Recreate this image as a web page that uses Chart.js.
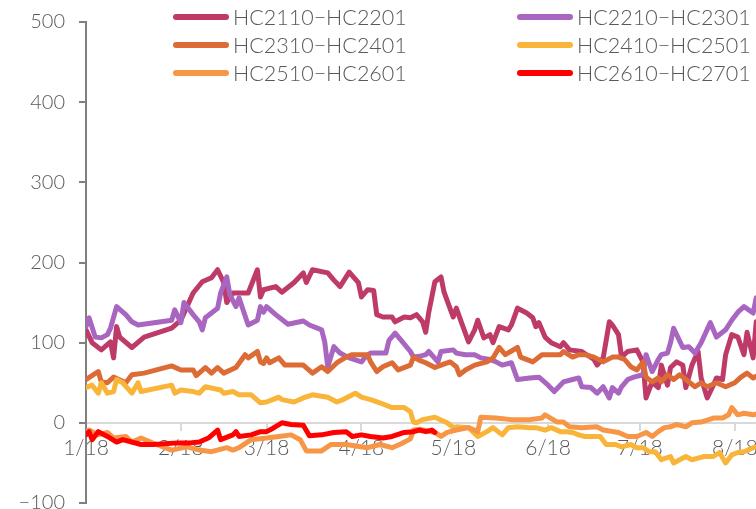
<!DOCTYPE html>
<html>
<head>
<meta charset="utf-8">
<script src="https://cdn.jsdelivr.net/npm/chart.js@4/dist/chart.umd.min.js"></script>
<style>
    html, body { margin: 0; padding: 0; overflow: hidden; background: #fff; }
    #wrap { position: relative; width: 900px; height: 540px; }
    #legend {
        position: absolute; left: 173px; top: 3px;
        display: grid; grid-template-columns: 344px auto;
        font-family: Lato, sans-serif; font-weight: 300; font-size: 21.5px; color: #595959;
    }
    .item { display: flex; align-items: center; height: 28px; white-space: nowrap; }
    .swatch { width: 56px; height: 6px; border-radius: 3px; margin-right: 4px; }
</style>
</head>
<body>
<div id="wrap">
    <canvas id="myChart"></canvas>
    <div id="legend"></div>
</div>
<script>
// x = days since 1/18, y = spread
const seriesNames = ['HC2110\u2212HC2201', 'HC2210\u2212HC2301', 'HC2310\u2212HC2401', 'HC2410\u2212HC2501', 'HC2510\u2212HC2601', 'HC2610\u2212HC2701'];
const seriesColors = ['#be3a68', '#a866c0', '#dc6b35', '#f9b53a', '#f79646', '#ff0000'];

const tickDays = [0, 31, 59, 90, 120, 151, 181, 212, 243];
const tickLabels = ['1/18', '2/18', '3/18', '4/18', '5/18', '6/18', '7/18', '8/18', '9/18'];

const hc2110 = [[0,116],[2,100],[5,91],[8,101],[9,81],[10,120],[11,107],[15,94],[19,107],[28,118],[31,128],[35,162],[38,176],[41,181],[43,191],[45,175],[46,150],[48,162],[53,162],[56,191],[57,157],[58,166],[62,170],[64,163],[68,175],[71,187],[72,175],[74,191],[79,187],[81,178],[83,170],[86,188],[89,175],[90,157],[92,166],[94,165],[95,135],[97,132],[100,132],[101,126],[104,132],[106,131],[108,135],[110,126],[111,113],[112,138],[114,176],[116,182],[117,163],[120,132],[121,143],[123,122],[125,101],[127,116],[128,128],[130,106],[132,110],[133,100],[135,120],[138,116],[139,122],[141,143],[144,137],[146,131],[147,120],[148,125],[150,107],[152,100],[155,95],[156,100],[158,91],[162,89],[166,79],[167,72],[169,81],[171,126],[172,122],[174,110],[175,82],[177,89],[180,91],[182,76],[183,31],[185,51],[187,44],[188,72],[190,47],[191,69],[193,76],[195,72],[196,44],[198,72],[200,89],[201,56],[203,31],[205,47],[206,56],[208,54],[209,85],[211,110],[213,107],[215,85],[216,113],[218,81],[219,126]];
const hc2210 = [[0,120],[1,131],[3,107],[5,106],[7,110],[8,118],[10,145],[13,135],[15,126],[17,122],[28,128],[29,141],[31,125],[32,150],[35,135],[37,126],[38,116],[39,131],[43,143],[44,162],[46,182],[47,160],[49,145],[50,156],[53,122],[56,128],[57,145],[58,138],[59,145],[62,135],[66,123],[71,127],[73,122],[77,116],[78,101],[79,70],[81,95],[83,87],[86,81],[90,76],[91,81],[93,87],[98,87],[99,103],[101,112],[103,103],[106,89],[107,82],[109,83],[111,85],[112,89],[115,76],[116,89],[120,91],[121,87],[124,85],[127,85],[129,81],[132,79],[134,76],[136,72],[139,75],[141,54],[145,56],[148,57],[151,47],[153,39],[156,51],[159,54],[161,56],[162,45],[165,44],[167,37],[169,45],[171,31],[172,44],[174,37],[175,45],[177,54],[179,57],[182,60],[183,85],[185,64],[187,79],[188,85],[190,87],[191,100],[192,118],[195,94],[197,95],[199,87],[201,100],[204,125],[206,107],[209,116],[211,128],[213,138],[215,145],[218,137],[219,156]];
const hc2310 = [[0,54],[4,64],[5,51],[7,50],[9,57],[13,50],[15,60],[19,62],[28,71],[31,66],[35,66],[36,59],[39,69],[41,62],[43,69],[45,62],[49,69],[52,85],[53,81],[56,89],[57,76],[58,74],[59,81],[60,75],[63,81],[65,72],[71,72],[74,62],[77,70],[79,64],[82,75],[85,82],[87,85],[92,85],[93,76],[95,64],[97,70],[100,75],[102,66],[106,72],[107,82],[109,78],[111,75],[114,69],[116,72],[119,76],[121,70],[122,60],[124,66],[127,72],[131,76],[133,81],[135,94],[137,85],[141,94],[142,82],[146,76],[149,85],[152,85],[155,85],[156,89],[159,82],[161,85],[163,85],[166,82],[169,76],[172,82],[174,82],[176,79],[178,70],[180,66],[182,76],[183,57],[185,51],[187,56],[188,51],[190,60],[192,54],[194,60],[196,54],[199,45],[201,50],[203,45],[206,50],[209,45],[212,50],[214,57],[216,62],[218,56],[219,58]];
const hc2410 = [[0,44],[2,47],[4,37],[5,50],[7,37],[9,39],[10,54],[12,50],[15,37],[17,50],[18,39],[28,47],[29,37],[31,41],[35,39],[37,37],[39,45],[44,41],[45,37],[48,39],[50,35],[54,35],[57,25],[59,26],[61,29],[63,32],[64,29],[68,26],[71,31],[74,35],[79,32],[82,26],[84,29],[85,31],[88,37],[90,32],[93,29],[96,25],[100,19],[104,19],[106,14],[107,1],[108,0],[110,4],[114,7],[118,0],[120,-6],[121,-5],[125,-6],[128,-17],[131,-11],[133,-6],[136,-15],[138,-6],[141,-5],[145,-6],[147,-6],[150,-9],[152,-6],[155,-11],[157,-11],[159,-12],[161,-15],[163,-17],[166,-17],[168,-17],[170,-27],[173,-27],[175,-30],[178,-27],[180,-31],[182,-31],[184,-36],[186,-36],[188,-46],[191,-42],[192,-50],[196,-42],[198,-46],[200,-44],[202,-42],[205,-42],[207,-37],[209,-50],[211,-40],[213,-37],[215,-36],[218,-31],[219,-30]];
const hc2510 = [[0,-12],[1,-9],[4,-15],[7,-12],[9,-19],[13,-17],[15,-24],[18,-19],[23,-27],[28,-34],[33,-30],[37,-34],[41,-36],[46,-31],[48,-34],[50,-31],[54,-21],[59,-19],[63,-17],[67,-15],[70,-21],[72,-35],[77,-35],[80,-27],[85,-27],[92,-31],[96,-27],[100,-31],[103,-26],[106,-20],[107,-9],[109,-8],[114,-12],[116,-17],[118,-12],[121,-9],[125,-6],[128,-11],[129,7],[134,6],[139,4],[145,4],[149,6],[150,10],[154,1],[156,1],[158,-5],[162,-6],[167,-5],[169,-9],[174,-12],[177,-17],[180,-17],[183,-12],[185,-17],[187,-11],[189,-6],[191,-5],[193,-2],[196,-5],[198,0],[201,1],[205,6],[208,6],[210,10],[211,19],[213,10],[215,12],[218,10],[219,11]];
const hc2610 = [[0,-15],[1,-11],[2,-21],[4,-11],[7,-17],[10,-24],[12,-21],[18,-27],[22,-27],[30,-25],[34,-25],[37,-24],[40,-19],[43,-9],[44,-21],[48,-15],[49,-11],[50,-17],[54,-15],[57,-11],[59,-11],[61,-7],[64,0],[67,-2],[71,-3],[73,-16],[77,-15],[81,-12],[85,-11],[87,-17],[90,-15],[93,-17],[97,-19],[100,-17],[104,-12],[107,-11],[109,-9],[111,-11],[113,-9],[114,-12]];

const seriesData = [hc2110, hc2210, hc2310, hc2410, hc2510, hc2610];

const datasets = seriesData.map((pts, i) => ({
    label: seriesNames[i],
    data: pts.map(p => ({ x: p[0], y: p[1] })),
    borderColor: seriesColors[i],
    backgroundColor: seriesColors[i],
    borderWidth: 5,
    pointRadius: 0,
    tension: 0,
    borderJoinStyle: 'round',
    borderCapStyle: 'round',
    order: seriesData.length - i
}));

const ctx = document.getElementById('myChart');
new Chart(ctx, {
    type: 'line',
    data: { datasets: datasets },
    options: {
        responsive: true,
        maintainAspectRatio: false,
        animation: false,
        layout: { padding: { top: 22, left: 0, right: 3, bottom: 37 } },
        plugins: {
            legend: { display: false },
            tooltip: { enabled: false }
        },
        scales: {
            x: {
                type: 'linear',
                position: { y: 0 },
                min: 0,
                max: 265,
                afterBuildTicks: scale => { scale.ticks = tickDays.map(v => ({ value: v })); },
                ticks: {
                    autoSkip: false,
                    maxRotation: 0,
                    padding: 6,
                    color: '#595959',
                    font: { size: 21, family: 'Lato', weight: 300 },
                    callback: (value, index) => tickLabels[index]
                },
                grid: { drawOnChartArea: false, color: '#d9d9d9', lineWidth: 2, tickLength: 7 },
                border: { color: '#d9d9d9', width: 2 }
            },
            y: {
                min: -100,
                max: 500,
                // fixed axis width, and no extra room asked for the end labels
                afterFit: scale => {
                    scale.width = 86;
                    scale.paddingTop = 0;
                    scale.paddingBottom = 0;
                },
                ticks: {
                    stepSize: 100,
                    padding: 14,
                    color: '#595959',
                    font: { size: 20, family: 'Lato', weight: 300 },
                    callback: v => v < 0 ? '\u2212' + Math.abs(v) : String(v)
                },
                grid: { drawOnChartArea: false, color: '#808080', lineWidth: 2, tickLength: 7 },
                border: { color: '#808080', width: 2 }
            }
        }
    }
});

// legend sits over the plot in two columns, as in the original
const legend = document.getElementById('legend');
seriesNames.forEach((name, i) => {
    const item = document.createElement('div');
    item.className = 'item';
    const sw = document.createElement('span');
    sw.className = 'swatch';
    sw.style.background = seriesColors[i];
    item.appendChild(sw);
    item.appendChild(document.createTextNode(name));
    legend.appendChild(item);
});
</script>
</body>
</html>
